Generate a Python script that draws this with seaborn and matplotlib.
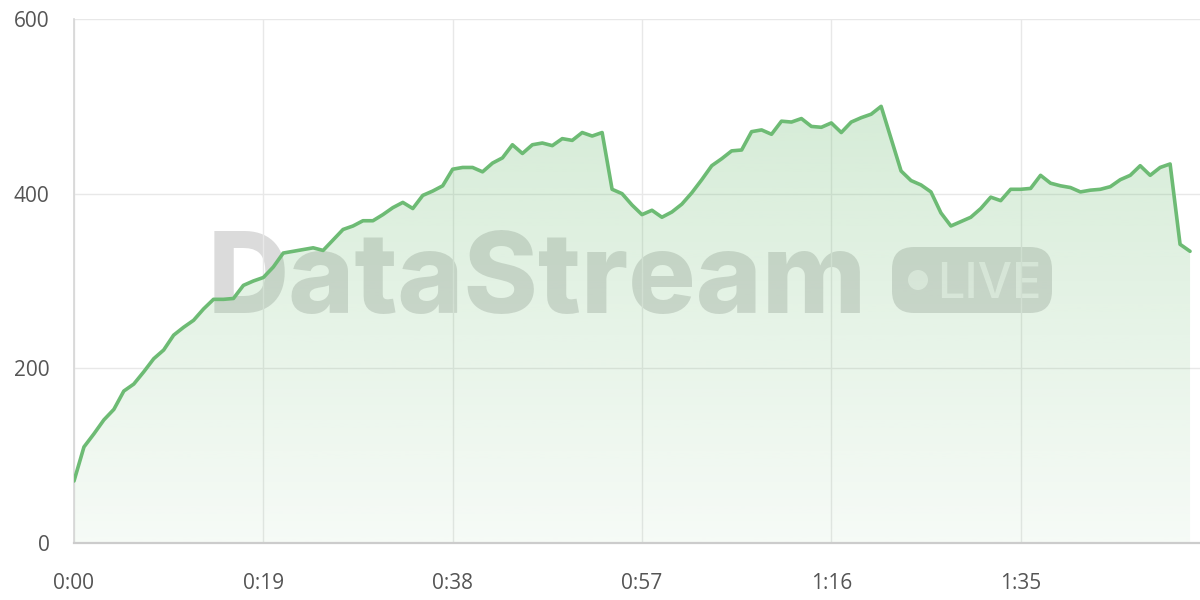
import numpy as np
import pandas as pd
import seaborn as sns
from matplotlib import pyplot as plt
from matplotlib.patches import FancyBboxPatch, Circle


# seconds since start, one sample per second
seconds = list(range(113))
values = [
    71, 110, 125, 141, 153, 174, 182, 196, 211, 221,
    238, 247, 255, 268, 279, 279, 280, 295, 300, 304,
    316, 332, 334, 336, 338, 335, 347, 359, 363, 369,
    369, 376, 384, 390, 383, 398, 403, 409, 428, 430,
    430, 425, 435, 441, 456, 446, 456, 458, 455, 463,
    461, 470, 466, 470, 405, 400, 387, 376, 381, 373,
    379, 388, 401, 416, 432, 440, 449, 450, 471, 473,
    468, 483, 482, 486, 477, 476, 481, 470, 482, 487,
    491, 500, 463, 426, 415, 410, 402, 378, 363, 368,
    373, 383, 396, 392, 405, 405, 406, 421, 412, 409,
    407, 402, 404, 405, 408, 416, 421, 432, 421, 430,
    434, 342, 334,
]
x_ticks = [0, 19, 38, 57, 76, 95]
y_ticks = [0, 200, 400, 600]

LINE = '#6dbb74'
GREEN_RGB = (108 / 255, 187 / 255, 113 / 255)
LABEL = '#555555'


def fmt_time(s):
    return f'{s // 60}:{s % 60:02d}'


def main():
    sns.set_style('white')
    plt.rcParams['font.family'] = ['Open Sans', 'DejaVu Sans']

    df = pd.DataFrame({'t': seconds, 'v': values})

    fig = plt.figure(figsize=(12, 6), dpi=100)
    ax = fig.add_axes([74 / 1200, 57 / 600, 1126 / 1200, 524 / 600])

    # watermark, sits under the area fill
    ax.text(2.08, 2.87, 'DataStream', transform=fig.dpi_scale_trans,
            fontsize=81, fontweight='heavy', family=['Inter', 'DejaVu Sans'],
            color='#999999', alpha=0.35, va='baseline', ha='left', zorder=0.2)
    badge = FancyBboxPatch((8.92, 2.87), 1.6, 0.66,
                           boxstyle='round,pad=0,rounding_size=0.22',
                           transform=fig.dpi_scale_trans, facecolor='#999999',
                           edgecolor='none', alpha=0.35, zorder=0.2)
    ax.add_patch(badge)
    ax.add_patch(Circle((9.18, 3.20), 0.1, transform=fig.dpi_scale_trans,
                        facecolor='white', edgecolor='none', alpha=0.6, zorder=0.3))
    ax.text(9.37, 3.02, 'LIVE', transform=fig.dpi_scale_trans, fontsize=35,
            fontweight='medium', family=['Inter', 'DejaVu Sans'],
            color='white', alpha=0.6, va='baseline', ha='left', zorder=0.3)

    # gradient area under the line
    top = max(values)
    poly = ax.fill_between(df['t'], df['v'], 0, color='none', zorder=1)
    alpha = np.linspace(0.06, 0.28, 256)[:, None]
    grad = np.zeros((256, 1, 4))
    grad[..., 0], grad[..., 1], grad[..., 2] = GREEN_RGB
    grad[..., 3] = alpha
    im = ax.imshow(grad, extent=[0, seconds[-1], 0, top], origin='lower',
                   aspect='auto', zorder=1)
    im.set_clip_path(poly.get_paths()[0], transform=ax.transData)

    sns.lineplot(data=df, x='t', y='v', ax=ax, color=LINE, linewidth=2.6, zorder=3)

    ax.set_xlim(0, 113)
    ax.set_ylim(0, 600)
    ax.set_xticks(x_ticks)
    ax.set_xticklabels([fmt_time(s) for s in x_ticks])
    ax.set_yticks(y_ticks)
    ax.set_xlabel('')
    ax.set_ylabel('')

    ax.grid(True, color='#e8e8e8', linewidth=1)
    ax.set_axisbelow(True)
    for side in ('top', 'right'):
        ax.spines[side].set_visible(False)
    ax.spines['left'].set_color('#d6d6d6')
    ax.spines['left'].set_linewidth(1.2)
    ax.spines['bottom'].set_color('#cccccc')
    ax.spines['bottom'].set_linewidth(1.6)
    ax.tick_params(axis='both', length=11.5, width=1, color='#e8e8e8',
                   labelsize=15, labelcolor=LABEL)
    ax.tick_params(axis='x', pad=10)
    ax.tick_params(axis='y', pad=6)

    fig.savefig('out.png', dpi=100)


if __name__ == '__main__':
    main()
